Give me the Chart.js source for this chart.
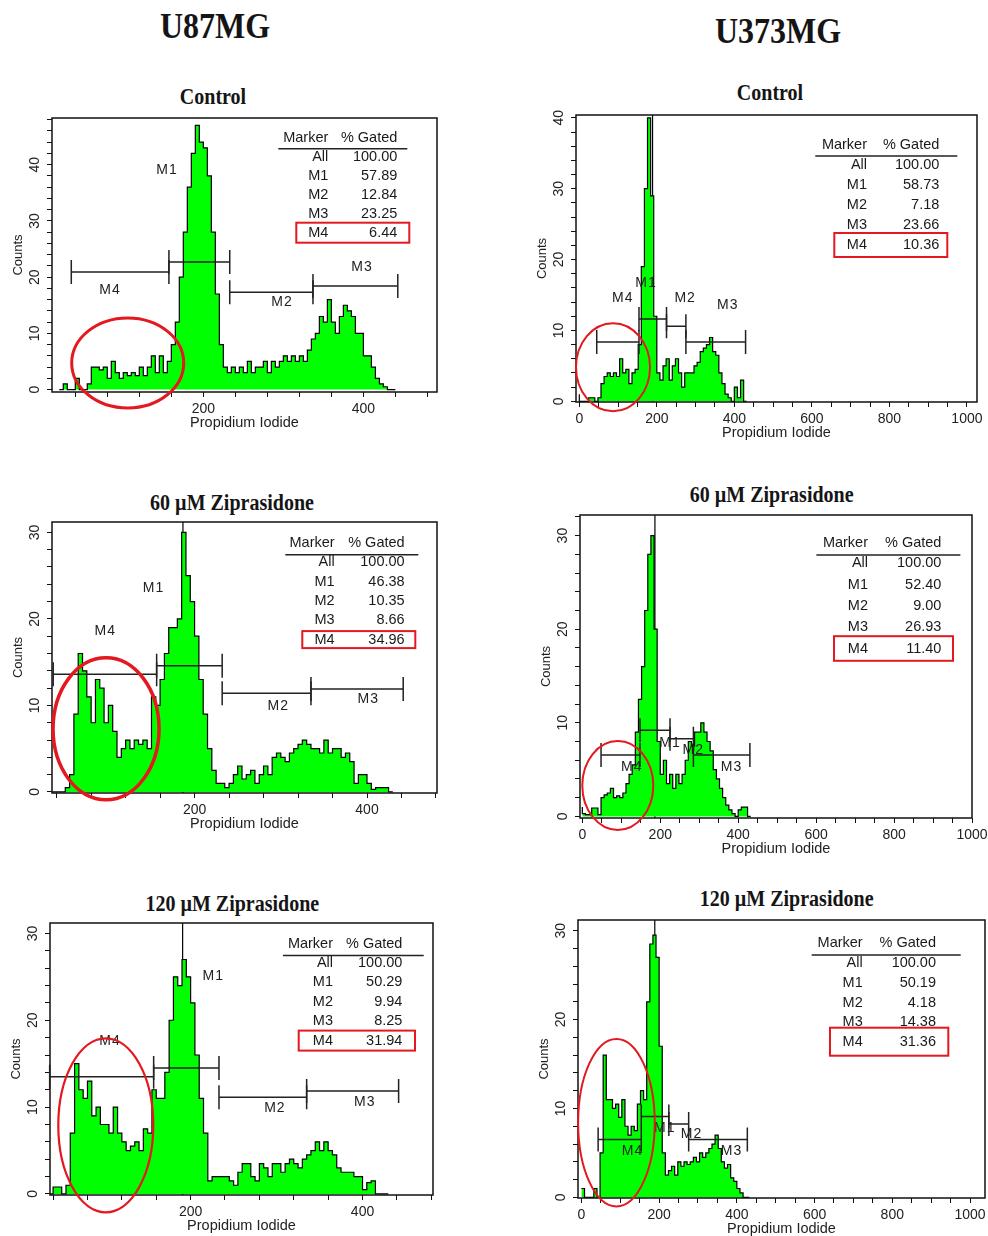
<!DOCTYPE html>
<html>
<head>
<meta charset="utf-8">
<script src="https://cdn.jsdelivr.net/npm/chart.js@4.4.1/dist/chart.umd.min.js"></script>
<style>
    body {
        margin: 0;
        width: 988px;
        height: 1236px;
        background: #fff;
        position: relative;
        overflow: hidden;
    }
    .hdr {
        position: absolute;
        font-family: 'Liberation Serif', 'Times New Roman', serif;
        font-weight: bold;
        color: #151515;
        line-height: 1;
        white-space: nowrap;
        transform: translate(-50%, -50%) scaleY(1.12);
    }
    .col { font-size: 32px; }
    .ttl { font-size: 20px; }
    .plot { position: absolute; }
</style>
</head>
<body>
<script>
// ---- data ----
const columnNames = ['U87MG', 'U373MG'];
const treatments = ['Control', '60 µM Ziprasidone', '120 µM Ziprasidone'];
const markerNames = ['All', 'M1', 'M2', 'M3', 'M4'];

// % gated, rows All, M1..M4
const gatedU87Control = ['100.00', '57.89', '12.84', '23.25', '6.44'];
const gatedU373Control = ['100.00', '58.73', '7.18', '23.66', '10.36'];
const gatedU87Zip60 = ['100.00', '46.38', '10.35', '8.66', '34.96'];
const gatedU373Zip60 = ['100.00', '52.40', '9.00', '26.93', '11.40'];
const gatedU87Zip120 = ['100.00', '50.29', '9.94', '8.25', '31.94'];
const gatedU373Zip120 = ['100.00', '50.19', '4.18', '14.38', '31.36'];

// gate ranges (channel units), order M1, M2, M3, M4
const gatesU87Control = [[157, 233], [233, 337], [337, 443], [35, 157]];
const gatesU373Control = [[154, 225], [225, 275], [275, 429], [45, 154]];
const gatesU87Zip60 = [[156, 232], [232, 335], [335, 442], [36, 156]];
const gatesU373Zip60 = [[148, 225], [225, 285], [285, 430], [48, 148]];
const gatesU87Zip120 = [[157, 233], [233, 335], [335, 442], [36, 157]];
const gatesU373Zip120 = [[154, 225], [225, 276], [276, 427], [43, 154]];

// histogram counts, U87 panels binned by 5 channels, U373 panels by 8
const u87ControlCounts = [
    0, 0, 1, 0, 0, 2, 0, 0, 1, 4,
    4, 3.5, 4, 2, 5, 3, 2, 3, 2.5, 3,
    2.5, 4, 2.5, 4, 6, 3, 6, 3, 5, 8,
    12, 20, 28, 36, 42, 47, 44, 43, 38, 28,
    17, 8, 4, 3, 4, 3, 4, 3, 5, 3,
    4, 4, 5, 3, 5, 4, 5, 6, 5, 6,
    5, 6, 5, 7, 9, 10, 13, 12, 16, 12,
    10, 13, 15, 14, 13, 10, 10, 6, 6, 4,
    2, 1, 0.5, 0, 0
];
const u373ControlCounts = [
    1, 0, 0, 0, 0.5, 0.5, 0, 0.5, 2.5, 3.5,
    4, 3.5, 4, 3.5, 6, 4, 4.5, 2.5, 4, 4.5,
    8, 19, 30, 40, 29, 12, 4, 3, 5, 6,
    3, 5, 6, 4, 2, 4, 4, 4, 5, 5.5,
    7, 7.5, 8, 9, 7, 6.5, 4, 2.5, 1, 0.5,
    0, 2, 0.5, 3, 0
];
const u87Zip60Counts = [
    0, 0, 0, 0, 0.5, 2, 9, 16, 14, 11,
    8, 13, 12, 8, 10, 7, 4, 5, 6, 5,
    6, 5.5, 6, 5, 11, 10, 13, 16, 19, 19,
    20, 30, 25, 22, 18, 13, 9, 5, 2.5, 1,
    1, 0.5, 1, 2, 3, 1.5, 2, 2.5, 1, 2,
    3, 2, 4, 4.5, 4, 3.5, 4.5, 5, 5.5, 6,
    5.5, 5, 5, 4.5, 6, 4.5, 5, 5, 4, 4.5,
    3.5, 1, 2, 2, 1, 0.3, 0.5, 0.5, 0.5, 0
];
const u373Zip60Counts = [
    1, 0.3, 0.2, 0.2, 0.9, 0.9, 0.2, 2, 2.3, 2.5,
    3, 2, 2.2, 2, 2.5, 3.5, 4.5, 5.5, 9, 12.5,
    16, 22, 28, 30, 20, 8, 4.5, 6, 3.5, 4.5,
    3, 4.5, 3.5, 4.5, 6, 8, 7.5, 9, 9, 10,
    9, 8, 7, 5, 4, 3, 2, 1.2, 0.7, 0.3,
    0, 0.7, 1, 1, 0
];
const u87Zip120Counts = [
    0, 0, 0.8, 0.8, 0, 1, 7, 15, 12, 11,
    13, 9, 10, 8, 8, 7, 10, 7, 6, 5,
    5.5, 6, 5, 7.5, 7, 12, 11, 11, 14, 20,
    25, 24, 27, 25, 22, 16, 11, 7, 1.5, 2,
    2, 2, 2, 1.5, 1, 2.5, 3.5, 3.5, 2, 1.5,
    3.5, 3, 2, 3.5, 3.5, 2.5, 3.5, 4, 3.5, 3,
    4, 4.5, 5, 6, 5, 6, 5, 4.5, 3, 2.5,
    2.5, 2.5, 2, 2, 0.5, 1.3, 1.5, 0, 0, 0
];
const u373Zip120Counts = [
    1, 1, 0, 0, 0, 1, 0, 5, 16, 11,
    11, 10, 10.5, 9, 11, 8, 7, 8, 7.5, 10.5,
    12, 11, 22, 28.5, 29.5, 27, 17, 5, 2.5, 3,
    3.5, 2.5, 4, 3.5, 4, 3.7, 4, 4.5, 4, 5,
    4.5, 5, 5.5, 6, 7, 5.5, 4, 3.3, 3.7, 2.2,
    1.8, 1, 0.5, 0, 0
];

// ticks
const u87XTicks = [40, 80, 120, 160, 200, 240, 280, 320, 360, 400, 440, 480];
const u87XLabels = [200, 400];
const u373XTicks = [0, 50, 100, 150, 200, 250, 300, 350, 400, 450, 500, 550, 600, 650, 700, 750, 800, 850, 900, 950, 1000];
const u373XLabels = [0, 200, 400, 600, 800, 1000];
const countTicks = [0, 2, 4, 6, 8, 10, 12, 14, 16, 18, 20, 22, 24, 26, 28, 30, 32, 34, 36, 38, 40, 42, 44, 46, 48];
const countLabels = [0, 10, 20, 30, 40];

// ---- layout ----
const PAD_L = 48, PAD_T = 6, PAD_R = 18, PAD_B = 42;
const RED = '#e3191f';
const SANS = "'Liberation Sans', Arial, sans-serif";

const panels = [
    {
        title: treatments[0], titleAt: [213, 95.5],
        counts: u87ControlCounts, binStart: 20, binWidth: 5,
        gated: gatedU87Control, gates: gatesU87Control,
        area: { l: 51.7, r: 436.7, t: 118.3, b: 391.7 },
        xRange: [10.9, 492], yRange: [-0.43, 48.3],
        xTicks: u87XTicks, xLabels: u87XLabels,
        gateY: [22.7, 17.3, 18.4, 20.9],
        labelAt: [[154.6, 39.1], [298.4, 15.6], [398.4, 21.8], [83.4, 17.7]],
        ellipse: { x: 105.5, y: 4.74, rx: 56, ry: 45, w: 3 },
        table: { hy: 19.7, uy: 30.7, u1: -158.7, u2: -29.7, c1: -108.7, c2: -39.7, ry: 38.7, rs: 19, b1: -140.7, b2: -27.7, bh: 10 },
        cursor: null
    },
    {
        title: treatments[0], titleAt: [770, 92],
        counts: u373ControlCounts, binStart: 0, binWidth: 8,
        gated: gatedU373Control, gates: gatesU373Control,
        area: { l: 576, r: 976.7, t: 115, b: 402.3 },
        xRange: [-8.5, 1026], yRange: [-0.1, 40.4],
        xTicks: u373XTicks, xLabels: u373XLabels,
        gateY: [11.6, 10.6, 8.36, 8.36],
        labelAt: [[172, 16.7], [273, 14.6], [383, 13.6], [112, 14.6]],
        ellipse: { x: 87, y: 4.8, rx: 37, ry: 44, w: 2 },
        table: { hy: 30, uy: 41, u1: -161.7, u2: -19.7, c1: -110, c2: -37.7, ry: 50, rs: 20, b1: -142.7, b2: -29.7, bh: 12 },
        cursor: 189
    },
    {
        title: treatments[1], titleAt: [232, 502],
        counts: u87Zip60Counts, binStart: 35, binWidth: 5,
        gated: gatedU87Zip60, gates: gatesU87Zip60,
        area: { l: 51.7, r: 436.7, t: 522.3, b: 793.3 },
        xRange: [34.6, 481.2], yRange: [-0.12, 31.2],
        xTicks: u87XTicks, xLabels: u87XLabels,
        gateY: [14.6, 11.4, 11.9, 13.6],
        labelAt: [[152.4, 23.5], [297, 9.9], [401.5, 10.7], [96.4, 18.6]],
        ellipse: { x: 97.3, y: 7.3, rx: 53, ry: 71, w: 3.5 },
        table: { hy: 21, uy: 32.7, u1: -151.7, u2: -18.7, c1: -102.4, c2: -32.4, ry: 40.4, rs: 19.3, b1: -134.7, b2: -21.7, bh: 8.5 },
        cursor: 186.5
    },
    {
        title: treatments[1], titleAt: [771.7, 494],
        counts: u373Zip60Counts, binStart: 0, binWidth: 8,
        gated: gatedU373Zip60, gates: gatesU373Zip60,
        area: { l: 580, r: 972.3, t: 515, b: 818.3 },
        xRange: [-6, 1000], yRange: [-0.17, 32.2],
        xTicks: u373XTicks, xLabels: u373XLabels,
        gateY: [9.2, 8.3, 6.55, 6.55],
        labelAt: [[225, 7.8], [284.6, 7.1], [383, 5.3], [126.7, 5.3]],
        ellipse: { x: 91, y: 3.3, rx: 35.5, ry: 44.5, w: 2 },
        table: { hy: 28.3, uy: 40, u1: -155.6, u2: -11.6, c1: -104, c2: -30.6, ry: 48.3, rs: 21.3, b1: -138, b2: -19, bh: 12.3 },
        cursor: 186.3
    },
    {
        title: treatments[2], titleAt: [232.3, 903.3],
        counts: u87Zip120Counts, binStart: 35, binWidth: 5,
        gated: gatedU87Zip120, gates: gatesU87Zip120,
        area: { l: 50, r: 433.3, t: 923.3, b: 1195 },
        xRange: [36.4, 482], yRange: [-0.12, 31.2],
        xTicks: u87XTicks, xLabels: u87XLabels,
        gateY: [14.5, 11.15, 11.85, 13.5],
        labelAt: [[226.3, 25.1], [298, 9.9], [402.7, 10.6], [106.2, 17.6]],
        ellipse: { x: 101.3, y: 7.9, rx: 47.5, ry: 87, w: 2.2 },
        table: { hy: 20.7, uy: 32.4, u1: -150, u2: -9.3, c1: -100, c2: -30.6, ry: 40, rs: 19.4, b1: -134.3, b2: -18, bh: 10 },
        cursor: 190.7
    },
    {
        title: treatments[2], titleAt: [786.7, 898.3],
        counts: u373Zip120Counts, binStart: 0, binWidth: 8,
        gated: gatedU373Zip120, gates: gatesU373Zip120,
        area: { l: 578.3, r: 985, t: 920, b: 1198.3 },
        xRange: [-8.8, 1038.6], yRange: [-0.07, 31.2],
        xTicks: u373XTicks, xLabels: u373XLabels,
        gateY: [9.1, 8.25, 6.5, 6.5],
        labelAt: [[214.5, 7.8], [283.3, 7.1], [386.3, 5.2], [131.3, 5.2]],
        ellipse: { x: 90.1, y: 8.4, rx: 38.3, ry: 83.8, w: 2 },
        table: { hy: 23.3, uy: 35, u1: -173.3, u2: -24.3, c1: -122.3, c2: -49, ry: 43.3, rs: 19.6, b1: -155, b2: -36.7, bh: 14 },
        cursor: 188.8
    }
];

Chart.defaults.font.family = SANS;
Chart.defaults.font.size = 14;
Chart.defaults.color = '#222';

function addText(txt, x, y, cls) {
    const d = document.createElement('div');
    d.className = 'hdr ' + cls;
    d.textContent = txt;
    d.style.left = x + 'px';
    d.style.top = y + 'px';
    document.body.appendChild(d);
}

function makeOverlay(p) {
    return {
        id: 'facsOverlay',
        beforeDatasetsDraw(chart) {
            if (p.cursor === null) return;
            const { ctx, chartArea: a, scales: { x } } = chart;
            const px = x.getPixelForValue(p.cursor);
            ctx.save();
            ctx.strokeStyle = '#000';
            ctx.lineWidth = 1.2;
            ctx.beginPath();
            ctx.moveTo(px, a.top);
            ctx.lineTo(px, a.bottom);
            ctx.stroke();
            ctx.restore();
        },
        afterDatasetsDraw(chart) {
            const { ctx, chartArea: a, scales: { x, y } } = chart;
            ctx.save();

            // frame
            ctx.strokeStyle = '#111';
            ctx.lineWidth = 1.5;
            ctx.strokeRect(a.left, a.top, a.right - a.left, a.bottom - a.top);

            // marker brackets
            ctx.strokeStyle = '#222';
            ctx.lineWidth = 1.5;
            p.gates.forEach((g, i) => {
                const x1 = x.getPixelForValue(g[0]);
                const x2 = x.getPixelForValue(g[1]);
                const py = y.getPixelForValue(p.gateY[i]);
                ctx.beginPath();
                ctx.moveTo(x1, py); ctx.lineTo(x2, py);
                ctx.moveTo(x1, py - 12); ctx.lineTo(x1, py + 12);
                ctx.moveTo(x2, py - 12); ctx.lineTo(x2, py + 12);
                ctx.stroke();
            });
            ctx.fillStyle = '#222';
            ctx.font = '14px ' + SANS;
            ctx.letterSpacing = '1px';
            ctx.textAlign = 'center';
            ctx.textBaseline = 'middle';
            p.labelAt.forEach((pos, i) => {
                ctx.fillText(markerNames[i + 1], x.getPixelForValue(pos[0]), y.getPixelForValue(pos[1]));
            });
            ctx.letterSpacing = '0px';

            // gated table
            const t = p.table;
            ctx.font = '14.5px ' + SANS;
            ctx.textAlign = 'right';
            ctx.fillStyle = '#1a1a1a';
            ctx.fillText('Marker', a.right + t.c1, a.top + t.hy);
            ctx.fillText('% Gated', a.right + t.c2, a.top + t.hy);
            ctx.beginPath();
            ctx.moveTo(a.right + t.u1, a.top + t.uy);
            ctx.lineTo(a.right + t.u2, a.top + t.uy);
            ctx.stroke();
            markerNames.forEach((m, i) => {
                const ry = a.top + t.ry + i * t.rs;
                ctx.fillText(m, a.right + t.c1, ry);
                ctx.fillText(p.gated[i], a.right + t.c2, ry);
            });
            const m4y = a.top + t.ry + 4 * t.rs;
            ctx.strokeStyle = RED;
            ctx.lineWidth = 2;
            ctx.strokeRect(a.right + t.b1, m4y - t.bh, t.b2 - t.b1, 2 * t.bh);

            // red ellipse
            const e = p.ellipse;
            ctx.lineWidth = e.w;
            ctx.beginPath();
            ctx.ellipse(x.getPixelForValue(e.x), y.getPixelForValue(e.y), e.rx, e.ry, 0, 0, Math.PI * 2);
            ctx.stroke();

            ctx.restore();
        }
    };
}

function buildPanel(p) {
    const L = Math.round(p.area.l), R = Math.round(p.area.r);
    const T = Math.round(p.area.t), B = Math.round(p.area.b);
    const box = document.createElement('div');
    box.className = 'plot';
    box.style.left = (L - PAD_L) + 'px';
    box.style.top = (T - PAD_T) + 'px';
    box.style.width = (R - L + PAD_L + PAD_R) + 'px';
    box.style.height = (B - T + PAD_T + PAD_B) + 'px';
    const cv = document.createElement('canvas');
    box.appendChild(cv);
    document.body.appendChild(box);

    const [xMin, xMax] = p.xRange;
    const [yMin, yMax] = p.yRange;

    new Chart(cv, {
        type: 'line',
        data: {
            datasets: [{
                data: p.counts.map((c, i) => ({ x: p.binStart + i * p.binWidth, y: c })),
                stepped: 'after',
                fill: 'origin',
                backgroundColor: '#00ff00',
                borderColor: '#000',
                borderWidth: 1.2,
                pointRadius: 0
            }]
        },
        options: {
            responsive: true,
            maintainAspectRatio: false,
            animation: false,
            events: [],
            layout: { autoPadding: false, padding: { left: 0, top: PAD_T, right: PAD_R, bottom: 0 } },
            plugins: { legend: { display: false }, tooltip: { enabled: false } },
            scales: {
                x: {
                    type: 'linear',
                    min: xMin,
                    max: xMax,
                    afterBuildTicks: s => { s.ticks = p.xTicks.filter(v => v >= xMin && v <= xMax).map(v => ({ value: v })); },
                    afterFit: s => { s.height = PAD_B; s.paddingLeft = 0; s.paddingRight = 0; },
                    ticks: {
                        autoSkip: false, minRotation: 0, maxRotation: 0, padding: 4,
                        callback: v => p.xLabels.includes(v) ? String(v) : ''
                    },
                    grid: { drawOnChartArea: false, drawTicks: true, tickLength: 5, color: '#111', lineWidth: 1 },
                    border: { display: false },
                    title: { display: true, text: 'Propidium Iodide', font: { size: 14.5 }, padding: { top: 0, bottom: 2 } }
                },
                y: {
                    type: 'linear',
                    min: yMin,
                    max: yMax,
                    afterBuildTicks: s => { s.ticks = countTicks.filter(v => v >= yMin && v <= yMax).map(v => ({ value: v })); },
                    afterFit: s => { s.width = PAD_L; s.paddingTop = 0; s.paddingBottom = 0; },
                    ticks: {
                        autoSkip: false, minRotation: 90, maxRotation: 90, crossAlign: 'center', padding: 4,
                        callback: v => countLabels.includes(v) ? String(v) : ''
                    },
                    grid: { drawOnChartArea: false, drawTicks: true, tickLength: 5, color: '#111', lineWidth: 1 },
                    border: { display: false },
                    title: { display: true, text: 'Counts', font: { size: 13 }, padding: { top: 7, bottom: 0 } }
                }
            }
        },
        plugins: [makeOverlay(p)]
    });
}

addText(columnNames[0], 215, 26, 'col');
addText(columnNames[1], 778, 31, 'col');
panels.forEach(p => {
    addText(p.title, p.titleAt[0], p.titleAt[1], 'ttl');
    buildPanel(p);
});
</script>
</body>
</html>
